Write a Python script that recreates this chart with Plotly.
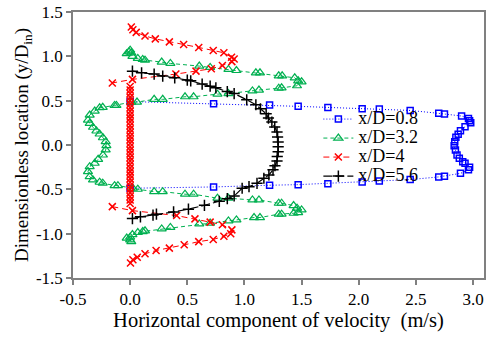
import plotly.graph_objects as go

# ---- data ----
x08 = [0.00, 0.73, 1.22, 1.47, 1.73, 2.03, 2.18, 2.45, 2.70, 2.75, 2.90, 2.96, 2.97, 2.98, 2.93, 2.89, 2.87, 2.85, 2.84, 2.835,
       2.846, 2.86, 2.88, 2.91, 2.93, 2.97, 2.96, 2.89, 2.75, 2.70, 2.45, 2.18, 2.03, 1.73, 1.47, 1.22, 0.73, 0.00]
y08 = [0.49, 0.465, 0.45, 0.436, 0.424, 0.409, 0.405, 0.39, 0.357, 0.349, 0.327, 0.30, 0.274, 0.25, 0.206, 0.161, 0.12, 0.087, 0.037, -0.008,
       -0.056, -0.113, -0.15, -0.188, -0.206, -0.251, -0.28, -0.32, -0.353, -0.36, -0.39, -0.405, -0.417, -0.436, -0.447, -0.454, -0.473, -0.488]

x32 = [-0.03, -0.01, 0.00, 0.01, 0.02, 0.067, 0.11, 0.13, 0.276, 0.352, 0.605, 0.70, 0.86, 0.93, 1.10, 1.136, 1.30, 1.33, 1.44, 1.47,
       1.50, 1.46, 1.325, 1.30, 1.127, 1.07, 0.86, 0.764, 0.555, 0.48, 0.285, 0.21, 0.06, 0.01, -0.12, -0.136, -0.24, -0.267, -0.31, -0.354,
       -0.369, -0.354, -0.325, -0.295, -0.267, -0.238, -0.214, -0.208, -0.214, -0.238, -0.28, -0.31, -0.354, -0.369, -0.354, -0.325, -0.267, -0.24, -0.136, -0.107,
       0.024, 0.067, 0.21, 0.285, 0.48, 0.555, 0.764, 0.86, 1.07, 1.127, 1.30, 1.325, 1.43, 1.46, 1.50, 1.47, 1.43, 1.325, 1.30, 1.136,
       1.084, 0.93, 0.86, 0.70, 0.605, 0.352, 0.276, 0.13, 0.11, 0.067, 0.02, 0.00, -0.03, 0.00, 0.01]
y32 = [1.03, 1.05, 1.07, 1.04, 1.00, 0.976, 0.965, 0.957, 0.935, 0.92, 0.89, 0.875, 0.852, 0.84, 0.814, 0.814, 0.78, 0.78, 0.758, 0.724,
       0.713, 0.668, 0.645, 0.64, 0.62, 0.61, 0.58, 0.574, 0.544, 0.544, 0.515, 0.515, 0.484, 0.484, 0.447, 0.447, 0.425, 0.42, 0.383, 0.338,
       0.28, 0.244, 0.20, 0.158, 0.124, 0.082, 0.037, -0.008, -0.056, -0.113, -0.161, -0.206, -0.244, -0.30, -0.357, -0.394, -0.42, -0.43, -0.458, -0.458,
       -0.488, -0.499, -0.526, -0.526, -0.555, -0.555, -0.60, -0.60, -0.62, -0.62, -0.657, -0.657, -0.683, -0.713, -0.732, -0.762, -0.77, -0.78, -0.78, -0.818,
       -0.818, -0.845, -0.856, -0.88, -0.89, -0.93, -0.946, -0.968, -0.976, -0.987, -1.01, -1.04, -1.05, -1.07, -1.09]

x40 = [0.01, 0.024, 0.053, 0.13, 0.22, 0.343, 0.468, 0.60, 0.727, 0.82, 0.887, 0.91, 0.89, 0.807, 0.71, 0.576, 0.40, 0.02, -0.156, None,
       0.0, 0.0, 0.0, 0.0, 0.0, 0.0, 0.0, 0.0, 0.0, 0.0, 0.0, 0.0, 0.0, 0.0, 0.0, 0.0, 0.0,
       0.0, 0.0, 0.0, 0.0, 0.0, 0.0, 0.0, 0.0, 0.0, 0.0, 0.0, 0.0, 0.0, 0.0, 0.0, 0.0, 0.0, None,
       -0.156, 0.02, 0.407, 0.567, 0.70, 0.807, 0.89, 0.88, 0.82, 0.727, 0.60, 0.473, 0.343, 0.227, 0.13, 0.062, 0.024, 0.003]
y40 = [1.33, 1.30, 1.27, 1.23, 1.197, 1.163, 1.134, 1.10, 1.066, 1.04, 0.99, 0.97, 0.94, 0.897, 0.86, 0.833, 0.80, 0.74, 0.70, None,
       0.66, 0.62, 0.58, 0.54, 0.50, 0.46, 0.42, 0.38, 0.34, 0.30, 0.26, 0.22, 0.18, 0.14, 0.10, 0.06, 0.02,
       -0.02, -0.06, -0.10, -0.14, -0.18, -0.22, -0.26, -0.30, -0.34, -0.38, -0.42, -0.46, -0.50, -0.54, -0.58, -0.62, -0.66, None,
       -0.695, -0.74, -0.796, -0.833, -0.87, -0.90, -0.957, -1.00, -1.03, -1.065, -1.09, -1.126, -1.163, -1.19, -1.227, -1.265, -1.295, -1.33]

x56 = [0.02, 0.10, 0.21, 0.285, 0.39, 0.50, 0.53, 0.63, 0.70, 0.75, 0.85, 0.91, 1.02, 1.10, 1.14, 1.19, 1.21, 1.24, 1.265, 1.285,
       1.29, 1.295, 1.295, 1.295, 1.287, 1.285, 1.267, 1.25, 1.214, 1.17, 1.11, 1.04, 0.98, 0.91, 0.85, 0.78, 0.65, 0.51, 0.38, 0.23,
       0.20, 0.09, 0.02]
y56 = [0.833, 0.814, 0.80, 0.777, 0.758, 0.732, 0.724, 0.687, 0.664, 0.645, 0.602, 0.58, 0.51, 0.454, 0.409, 0.352, 0.304, 0.259, 0.203, 0.146,
       0.09, 0.034, -0.019, -0.075, -0.131, -0.18, -0.233, -0.28, -0.338, -0.375, -0.432, -0.47, -0.488, -0.575, -0.605, -0.635, -0.68, -0.724, -0.755, -0.78,
       -0.79, -0.81, -0.83]

series_names = ["x/D=0.8", "x/D=3.2", "x/D=4", "x/D=5.6"]
x_tickvals = [-0.5, 0.0, 0.5, 1.0, 1.5, 2.0, 2.5, 3.0]
x_ticktext = ["-0.5", "0.0", "0.5", "1.0", "1.5", "2.0", "2.5", "3.0"]
y_tickvals = [-1.5, -1.0, -0.5, 0.0, 0.5, 1.0, 1.5]
y_ticktext = ["-1.5", "-1.0", "-0.5", "0.0", "0.5", "1.0", "1.5"]

FONT = "Liberation Serif, Times New Roman, serif"


def leg(name):
    return '<span style="font-size:18px">' + name + '</span>'


fig = go.Figure()
fig.add_trace(go.Scatter(x=x08, y=y08, name=leg(series_names[0]), mode="lines+markers",
                         line=dict(color="#0000FF", width=1, dash="1px,2px"),
                         marker=dict(symbol="square-open", size=6, color="#0000FF", line=dict(width=1.5, color="#0000FF"))))
fig.add_trace(go.Scatter(x=x32, y=y32, name=leg(series_names[1]), mode="lines+markers",
                         line=dict(color="#00B050", width=1, dash="4px,3px"),
                         marker=dict(symbol="triangle-up-open", size=8, color="#00B050", line=dict(width=1.2, color="#00B050"))))
fig.add_trace(go.Scatter(x=x40, y=y40, name=leg(series_names[2]), mode="lines+markers", connectgaps=False,
                         line=dict(color="#FF0000", width=1, dash="6px,4px"),
                         marker=dict(symbol="x-thin", size=7, color="#FF0000", line=dict(width=1.5, color="#FF0000"))))
fig.add_trace(go.Scatter(x=x56, y=y56, name=leg(series_names[3]), mode="lines+markers",
                         line=dict(color="#000000", width=1.2, dash="9px,3px"),
                         marker=dict(symbol="cross-thin", size=8, color="#000000", line=dict(width=1.5, color="#000000"))))

axis_common = dict(showgrid=False, zeroline=False, showline=True, linecolor="#808080", linewidth=1.5,
                   mirror=True, ticks="outside", ticklen=5, tickcolor="#808080", tickwidth=1.5,
                   tickfont=dict(family=FONT, size=17, color="#000000"))

fig.update_layout(
    width=488, height=338,
    margin=dict(l=73, r=2, t=12, b=60),
    paper_bgcolor="white", plot_bgcolor="white",
    font=dict(family=FONT, color="#000000"),
    xaxis=dict(range=[-0.5, 3.096], tickvals=x_tickvals, ticktext=x_ticktext,
               title=dict(text="Horizontal component of velocity\u00a0 (m/s)", font=dict(family=FONT, size=20.5), standoff=3),
               **axis_common),
    yaxis=dict(range=[-1.5, 1.5], tickvals=y_tickvals, ticktext=y_ticktext,
               title=dict(text="Dimensionless location (y/D<sub>in</sub>)", font=dict(family=FONT, size=19), standoff=2),
               **axis_common),
    legend=dict(x=0.597, y=0.652, xanchor="left", yanchor="top", bgcolor="rgba(0,0,0,0)",
                font=dict(family=FONT, size=12, color="#000000"), tracegroupgap=0),
    showlegend=True,
)

fig.write_html("out.html")
